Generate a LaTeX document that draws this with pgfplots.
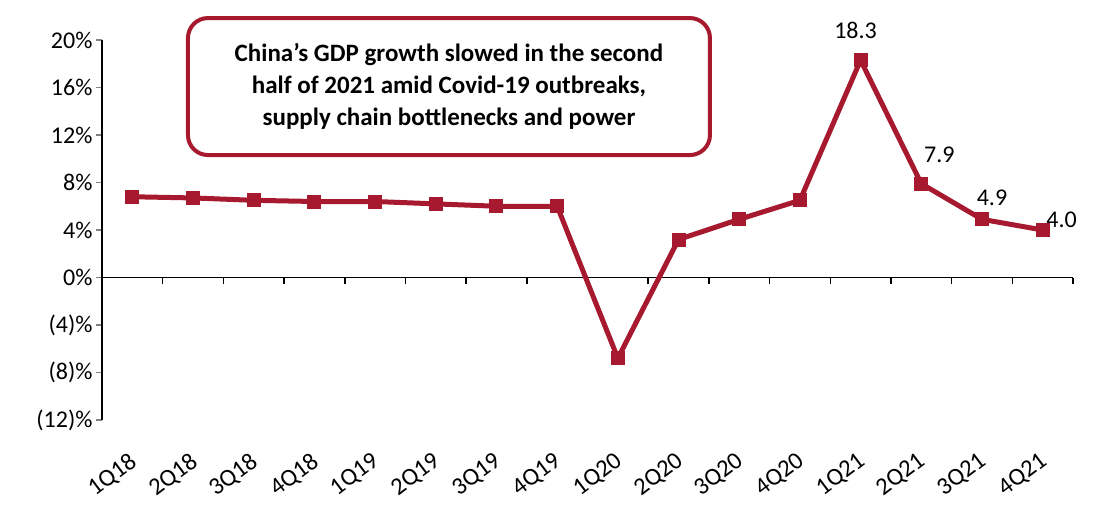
\documentclass[border=0pt]{standalone}
\usepackage{fontspec}
\setmainfont{Carlito}
\usepackage{pgfplots}
\pgfplotsset{compat=1.18}
\definecolor{gdpred}{RGB}{166,25,46}

\begin{document}
\begin{tikzpicture}
\begin{axis}[
    scale only axis,
    width=971pt, height=380pt,
    xmin=-0.5, xmax=15.5,
    ymin=-12, ymax=20,
    axis y line*=left,
    axis x line*=bottom,
    x axis line style={draw=none},
    y axis line style={line width=1.5pt},
    xtick={0,...,15},
    xticklabels={1Q18,2Q18,3Q18,4Q18,1Q19,2Q19,3Q19,4Q19,1Q20,2Q20,3Q20,4Q20,1Q21,2Q21,3Q21,4Q21},
    major x tick style={draw=none},
    xticklabel shift=25pt,
    xticklabel style={xshift=-4pt, rotate=37, anchor=north east, inner sep=0pt,
        font=\fontsize{24.5}{28}\selectfont},
    ytick={-12,-8,...,20},
    yticklabels={(12)\%,(8)\%,(4)\%,0\%,4\%,8\%,12\%,16\%,20\%},
    yticklabel style={font=\fontsize{24}{28}\selectfont},
    major y tick style={line width=1.5pt},
    tick align=outside,
    major tick length=6pt,
    clip=false,
    /pgf/number format/.cd, fixed, fixed zerofill, precision=1, assume math mode=true,
]
% zero line with category ticks
\draw[line width=1.5pt] (axis cs:-0.5,0) -- (axis cs:15.5,0);
\pgfplotsinvokeforeach{0.5,1.5,2.5,3.5,4.5,5.5,6.5,7.5,8.5,9.5,10.5,11.5,12.5,13.5,14.5,15.5}{
    \draw[line width=1.5pt] (axis cs:#1,0) -- ([yshift=-6pt]axis cs:#1,0);
}

\addplot[gdpred, line width=5pt, mark=square*, mark size=6.5pt,
    mark options={solid, line width=1pt}] coordinates {
    (0,6.8) (1,6.7) (2,6.5) (3,6.4) (4,6.4) (5,6.2) (6,6.0) (7,6.0)
    (8,-6.8) (9,3.2) (10,4.9) (11,6.5) (12,18.3) (13,7.9) (14,4.9) (15,4.0)
};

% data labels
\addplot[draw=none, forget plot, nodes near coords,
    every node near coord/.style={anchor=center, xshift=-5pt, yshift=30pt,
        font=\fontsize{24}{28}\selectfont, text=black}]
    coordinates {(12,18.3)};
\addplot[draw=none, forget plot, nodes near coords,
    every node near coord/.style={anchor=center, xshift=18pt, yshift=29pt,
        font=\fontsize{24}{28}\selectfont, text=black}]
    coordinates {(13,7.9)};
\addplot[draw=none, forget plot, nodes near coords,
    every node near coord/.style={anchor=center, xshift=10pt, yshift=22pt,
        font=\fontsize{24}{28}\selectfont, text=black}]
    coordinates {(14,4.9)};
\addplot[draw=none, forget plot, nodes near coords,
    every node near coord/.style={anchor=center, xshift=19pt, yshift=10pt,
        font=\fontsize{24}{28}\selectfont, text=black}]
    coordinates {(15,4.0)};

% annotation box
\node[draw=gdpred, line width=4pt, rounded corners=20pt, fill=white,
    minimum width=522pt, minimum height=137pt, align=center,
    font=\bfseries\fontsize{25}{32}\selectfont]
    at (axis cs:5.217,16.08)
    {China’s GDP growth slowed in the second\\half of 2021 amid Covid-19 outbreaks,\\supply chain bottlenecks and power};
\end{axis}
\pgfresetboundingbox
\path ([shift={(-102pt,-87pt)}]current axis.south west)
    rectangle ([shift={(34pt,40pt)}]current axis.north east);
\end{tikzpicture}
\end{document}
